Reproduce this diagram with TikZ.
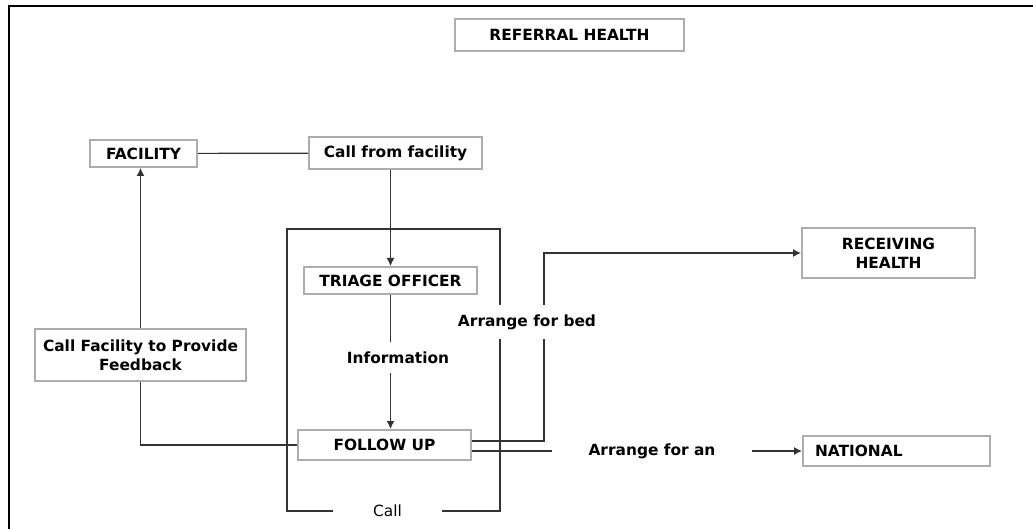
\documentclass[tikz,border=0pt]{standalone}
\usepackage{fontspec}
\setmainfont{DejaVu Sans}
\usetikzlibrary{arrows.meta, positioning}

\begin{document}
\begin{tikzpicture} [x = 0.5pt, y = -0.5pt,
          font = \fontsize{7.7}{9.7}\selectfont\bfseries,
          box/.style = {draw = black!32, line width = 1pt, inner sep = 0pt, align = center},
          link/.style = {draw = black!80, line width = 0.6pt},
          tip/.style = {-{Latex[length = 4pt, width = 4pt]}},
          gaptext/.style = {fill = white, inner sep = 0pt}
          ]
          \useasboundingbox (0,0) rectangle (1033,529);

          % Frame
          \draw [line width = 1.4pt] (9,529) -- (9,6) -- (1033,6);

          % Title
          \node (title) [box, minimum width = 114.5pt, minimum height = 16pt] at (569.5,35) {REFERRAL HEALTH};

          % Top row
          \node (facility) [box, minimum width = 53.5pt, minimum height = 13.5pt] at (143.5,153.5) {FACILITY};
          \node (callfrom) [box, minimum width = 86.5pt, minimum height = 16pt] at (395.5,153) {Call from facility};

          % Call centre
          \node (triage) [box, minimum width = 86.5pt, minimum height = 13.5pt] at (390.5,280.5) {TRIAGE OFFICER};
          \node (followup) [box, minimum width = 86.5pt, minimum height = 15pt] at (384.5,445) {FOLLOW UP};
          \node (callbox) [font = \fontsize{7.7}{9.7}\selectfont, minimum width = 54.5pt, inner sep = 0pt] at (387.5,511) {Call};
          \coordinate (boxnw) at (287,229);
          \coordinate (boxne) at (500,229);

          % Feedback
          \node (feedback) [box, minimum width = 105.5pt, minimum height = 26pt] at (140.5,355) {Call Facility to Provide\\Feedback};

          % Destinations
          \node (receiving) [box, minimum width = 86.5pt, minimum height = 25pt] at (888.5,253) {RECEIVING\\HEALTH};
          \node (national) [box, text width = 81.5pt, inner xsep = 6pt, align = left, minimum height = 15pt] at (896.5,451) {NATIONAL};
          \node (arrangean) [minimum width = 100pt, inner sep = 0pt] at (652,451) {Arrange for an};
          \coordinate (bedcol) at (544,253);

          % Links
          \draw [link] (callbox.west) -| (boxnw) -- (boxne) |- (callbox.east);
          \draw [link] (facility) -- (callfrom);
          \draw [link, tip] (triage.north |- callfrom.south) -- (triage.north);
          \draw [link, tip] (triage.south) -- (triage.south |- followup.north);
          \draw [link] (followup.west) -| (feedback.south);
          \draw [link, tip] (feedback.north) -- (feedback.north |- facility.south);
          \draw [link, tip] ([yshift = 2pt]followup.east) -| (bedcol) -- (receiving.west);
          \draw [link] ([yshift = -3pt]followup.east) -- (arrangean.west);
          \draw [link, tip] (arrangean.east) -- (national.west);

          % Labels on the links
          \node (info) [gaptext, minimum height = 15.5pt] at (398,357.5) {Information};
          \node (bed) [gaptext, minimum height = 17pt] at (527,322) {Arrange for bed};

\end{tikzpicture}
\end{document}
